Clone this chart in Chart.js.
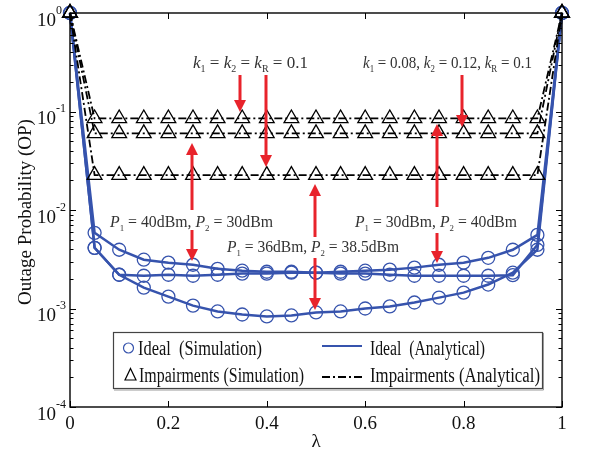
<!DOCTYPE html>
<html>
<head>
<meta charset="utf-8">
<script src="https://cdn.jsdelivr.net/npm/chart.js@4.4.1/dist/chart.umd.min.js"></script>
<style>
  html, body { margin: 0; padding: 0; background: #fff; }
  #wrap { width: 589px; height: 457px; }
</style>
</head>
<body>
<div id="wrap"><canvas id="op-chart" width="589" height="457"></canvas></div>
<script>
// Data
const lambda = [0, 0.05, 0.1, 0.15, 0.2, 0.25, 0.3, 0.35, 0.4, 0.45, 0.5,
                0.55, 0.6, 0.65, 0.7, 0.75, 0.8, 0.85, 0.9, 0.95, 1];

// Ideal (blue)
const idealP40P30 = [1, 0.00586, 0.00395, 0.00313, 0.00292, 0.00278, 0.00253, 0.00242, 0.00236, 0.00236, 0.00231,
                     0.00226, 0.00226, 0.00220, 0.00215, 0.00215, 0.00215, 0.00215, 0.00218, 0.00443, 1];
const idealP30P40 = [1, 0.00413, 0.00220, 0.00215, 0.00220, 0.00215, 0.00220, 0.00226, 0.00226, 0.00231, 0.00231,
                     0.00236, 0.00242, 0.00248, 0.00260, 0.00278, 0.00292, 0.00327, 0.00395, 0.00559, 1];
const idealP36P385 = [1, 0.00413, 0.00220, 0.00163, 0.00132, 0.00107, 0.000933, 0.000869, 0.000830, 0.000850, 0.000912,
                      0.000933, 0.00100, 0.00105, 0.00115, 0.00129, 0.00145, 0.00175, 0.00231, 0.00395, 1];

// Impairments (black)
const impairTop = [1, 0.085, 0.085, 0.085, 0.085, 0.085, 0.085, 0.085, 0.085, 0.085, 0.085,
                   0.085, 0.085, 0.085, 0.085, 0.085, 0.085, 0.085, 0.085, 0.085, 1];
const impairMid = [1, 0.060, 0.060, 0.060, 0.060, 0.060, 0.060, 0.060, 0.060, 0.060, 0.060,
                   0.060, 0.060, 0.060, 0.060, 0.060, 0.060, 0.060, 0.060, 0.060, 1];
const impairLow = [1, 0.0226, 0.0226, 0.0226, 0.0226, 0.0226, 0.0226, 0.0226, 0.0226, 0.0226, 0.0226,
                   0.0226, 0.0226, 0.0226, 0.0226, 0.0226, 0.0226, 0.0226, 0.0226, 0.0226, 1];

const xTicks = [0, 0.2, 0.4, 0.6, 0.8, 1];
const xTickLabels = ['0', '0.2', '0.4', '0.6', '0.8', '1'];
const yExponents = [0, -1, -2, -3, -4];

const BLUE = '#3653ad';
const RED = '#e8232b';
const SERIF = '"Liberation Serif", "DejaVu Serif", serif';

const pts = arr => lambda.map((x, i) => ({ x: x, y: arr[i] }));

function lineSet(arr, color, dash, width) {
  return { data: pts(arr), borderColor: color, borderWidth: width, borderDash: dash,
           pointRadius: 0, fill: false, tension: 0, clip: false };
}
function markerSet(arr, color, style, radius) {
  return { data: pts(arr), showLine: false, pointStyle: style, pointRadius: radius,
           pointBorderColor: color, pointBackgroundColor: 'rgba(0,0,0,0)', pointBorderWidth: 1.3, clip: false };
}

// Text helper: segments [text, style] with style n (normal), i (italic), s (subscript)
function richText(ctx, segs, x0, x1, base, size, color) {
  const fontFor = st => (st === 'i' ? 'italic ' : '') + (st === 's' ? Math.round(size * 0.58) : size) + 'px ' + SERIF;
  let w = 0;
  segs.forEach(([t, st]) => { ctx.font = fontFor(st); w += ctx.measureText(t).width; });
  ctx.save();
  ctx.translate(x0, base);
  ctx.scale((x1 - x0) / w, 1);
  ctx.fillStyle = color;
  ctx.textBaseline = 'alphabetic';
  ctx.textAlign = 'left';
  let cx = 0;
  segs.forEach(([t, st]) => {
    ctx.font = fontFor(st);
    ctx.fillText(t, cx, st === 's' ? size * 0.22 : 0);
    cx += ctx.measureText(t).width;
  });
  ctx.restore();
}

function arrow(ctx, x, y1, y2) {
  const dir = y2 > y1 ? 1 : -1;
  const head = 12;
  ctx.save();
  ctx.strokeStyle = RED; ctx.fillStyle = RED; ctx.lineWidth = 3;
  ctx.beginPath(); ctx.moveTo(x, y1); ctx.lineTo(x, y2 - dir * head); ctx.stroke();
  ctx.beginPath();
  ctx.moveTo(x, y2);
  ctx.lineTo(x - 6, y2 - dir * head);
  ctx.lineTo(x + 6, y2 - dir * head);
  ctx.closePath(); ctx.fill();
  ctx.restore();
}

const decorPlugin = {
  id: 'decor',
  afterDraw(chart) {
    const ctx = chart.ctx;
    const xs = chart.scales.x, ys = chart.scales.y;
    const a = chart.chartArea;
    ctx.save();

    // axes box
    ctx.strokeStyle = '#000'; ctx.lineWidth = 1.4;
    ctx.strokeRect(a.left, a.top, a.right - a.left, a.bottom - a.top);

    // x ticks (bottom and top)
    ctx.lineWidth = 1;
    ctx.beginPath();
    xTicks.forEach(v => {
      const px = Math.round(xs.getPixelForValue(v)) + 0.5;
      ctx.moveTo(px, a.bottom); ctx.lineTo(px, a.bottom - 6);
      ctx.moveTo(px, a.top); ctx.lineTo(px, a.top + 6);
    });
    // y ticks, major + minor, both sides
    yExponents.forEach(e => {
      for (let m = 1; m <= 9; m++) {
        const v = m * Math.pow(10, e);
        if (v > 1) break;
        const py = Math.round(ys.getPixelForValue(v)) + 0.5;
        const len = m === 1 ? 6 : 3.5;
        ctx.moveTo(a.left, py); ctx.lineTo(a.left + len, py);
        ctx.moveTo(a.right, py); ctx.lineTo(a.right - len, py);
      }
    });
    ctx.stroke();

    // tick labels
    ctx.fillStyle = '#111';
    ctx.font = '19px ' + SERIF;
    ctx.textAlign = 'center'; ctx.textBaseline = 'alphabetic';
    xTicks.forEach((v, i) => ctx.fillText(xTickLabels[i], xs.getPixelForValue(v), 429));
    yExponents.forEach(e => {
      const py = ys.getPixelForValue(Math.pow(10, e));
      ctx.font = '19px ' + SERIF; ctx.textAlign = 'left';
      ctx.fillText('10', 37, py + 12.5);
      ctx.font = '12px ' + SERIF;
      ctx.fillText(String(e), 56, py + 0.5);
    });

    // axis titles
    ctx.font = '19px ' + SERIF; ctx.textAlign = 'center';
    ctx.fillText('\u03bb', (a.left + a.right) / 2, 447);
    ctx.save();
    ctx.translate(31, 212); ctx.rotate(-Math.PI / 2);
    ctx.fillText('Outage Probability (OP)', 0, 0);
    ctx.restore();

    // annotations
    const tc = '#333';
    richText(ctx, [['k','i'],['1','s'],[' = ','n'],['k','i'],['2','s'],[' = ','n'],['k','i'],['R','s'],[' = 0.1','n']], 193, 308, 68, 17, tc);
    richText(ctx, [['k','i'],['1','s'],[' = 0.08, ','n'],['k','i'],['2','s'],[' = 0.12, ','n'],['k','i'],['R','s'],[' = 0.1','n']], 363, 532, 68, 17, tc);
    richText(ctx, [['P','i'],['1','s'],[' = 40dBm, ','n'],['P','i'],['2','s'],[' = 30dBm','n']], 110, 273, 227, 16, tc);
    richText(ctx, [['P','i'],['1','s'],[' = 30dBm, ','n'],['P','i'],['2','s'],[' = 40dBm','n']], 355, 517, 227, 16, tc);
    richText(ctx, [['P','i'],['1','s'],[' = 36dBm, ','n'],['P','i'],['2','s'],[' = 38.5dBm','n']], 227, 399, 252, 16, tc);

    arrow(ctx, 240, 75, 112);
    arrow(ctx, 266, 75, 167);
    arrow(ctx, 192, 210, 143);
    arrow(ctx, 192, 230, 261);
    arrow(ctx, 315, 237, 184);
    arrow(ctx, 315, 258, 310);
    arrow(ctx, 437, 207, 124);
    arrow(ctx, 437, 233, 263);
    arrow(ctx, 462, 75, 127);

    // legend
    ctx.fillStyle = '#fff';
    ctx.fillRect(113, 332, 429, 56);
    ctx.strokeStyle = '#444'; ctx.lineWidth = 1.2;
    ctx.strokeRect(113.5, 332.5, 429, 56);
    ctx.strokeStyle = '#999'; ctx.lineWidth = 1;
    ctx.beginPath(); ctx.moveTo(114, 390); ctx.lineTo(543.5, 390); ctx.lineTo(543.5, 333); ctx.stroke();

    ctx.strokeStyle = BLUE; ctx.lineWidth = 1.2;
    ctx.beginPath(); ctx.arc(128.5, 348, 5, 0, Math.PI * 2); ctx.stroke();
    ctx.strokeStyle = '#000';
    ctx.beginPath(); ctx.moveTo(130.5, 368.5); ctx.lineTo(136, 380); ctx.lineTo(125, 380); ctx.closePath(); ctx.stroke();
    ctx.strokeStyle = BLUE; ctx.lineWidth = 2;
    ctx.beginPath(); ctx.moveTo(322, 346); ctx.lineTo(362, 346); ctx.stroke();
    ctx.strokeStyle = '#000'; ctx.lineWidth = 1.8; ctx.setLineDash([8, 3, 2, 3]);
    ctx.beginPath(); ctx.moveTo(322, 377); ctx.lineTo(365, 377); ctx.stroke();
    ctx.setLineDash([]);

    richText(ctx, [['Ideal  (Simulation)','n']], 138, 262, 355, 20, '#111');
    richText(ctx, [['Impairments (Simulation)','n']], 139, 304, 382, 20, '#111');
    richText(ctx, [['Ideal  (Analytical)','n']], 370, 485, 355, 20, '#111');
    richText(ctx, [['Impairments (Analytical)','n']], 370, 540, 382, 20, '#111');

    ctx.restore();
  }
};

new Chart(document.getElementById('op-chart').getContext('2d'), {
  type: 'line',
  data: {
    datasets: [
      lineSet(impairTop, '#000', [8, 3, 2, 3], 1.8),
      lineSet(impairMid, '#000', [8, 3, 2, 3], 1.8),
      lineSet(impairLow, '#000', [8, 3, 2, 3], 1.8),
      markerSet(impairTop, '#000', 'triangle', 8.5),
      markerSet(impairMid, '#000', 'triangle', 8.5),
      markerSet(impairLow, '#000', 'triangle', 8.5),
      lineSet(idealP40P30, BLUE, [], 2.5),
      lineSet(idealP30P40, BLUE, [], 2.5),
      lineSet(idealP36P385, BLUE, [], 2.5),
      markerSet(idealP40P30, BLUE, 'circle', 6.5),
      markerSet(idealP30P40, BLUE, 'circle', 6.5),
      markerSet(idealP36P385, BLUE, 'circle', 6.5)
    ]
  },
  options: {
    responsive: false,
    animation: false,
    devicePixelRatio: 1,
    layout: { padding: { left: 70, right: 27, top: 13, bottom: 50 } },
    plugins: { legend: { display: false }, tooltip: { enabled: false } },
    scales: {
      x: { type: 'linear', min: 0, max: 1, display: false },
      y: { type: 'logarithmic', min: 0.0001, max: 1, display: false }
    }
  },
  plugins: [decorPlugin]
});
</script>
</body>
</html>
